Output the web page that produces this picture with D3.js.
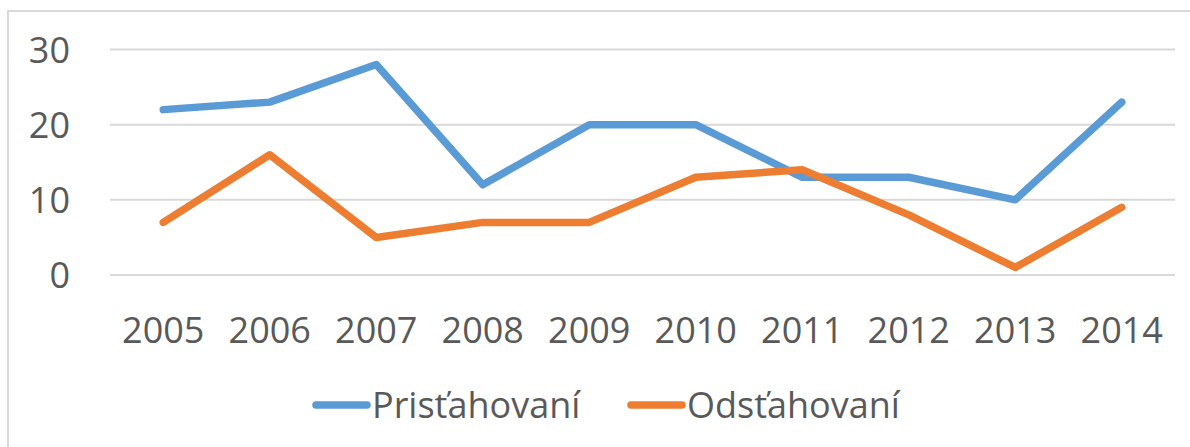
<!DOCTYPE html>
<html>
<head>
<meta charset="utf-8">
<script src="https://cdn.jsdelivr.net/npm/d3@7"></script>
<style>
  body { margin: 0; background: #fff; }
  text { font-family: "Open Sans", sans-serif; fill: #595959; }
</style>
</head>
<body>
<div id="chart"></div>
<script>
const years = ["2005", "2006", "2007", "2008", "2009", "2010", "2011", "2012", "2013", "2014"];
const pristahovani = [22, 23, 28, 12, 20, 20, 13, 13, 10, 23];
const odstahovani = [7, 16, 5, 7, 7, 13, 14, 8, 1, 9];
const yTicks = [0, 10, 20, 30];
const seriesNames = ["Prisťahovaní", "Odsťahovaní"];

const seriesColor = d3.scaleOrdinal()
    .domain(seriesNames)
    .range(["#5b9bd5", "#ed7d31"]);

const width = 1190, height = 447;
const plot = { left: 110, right: 1175, top: 49.5, bottom: 275 };

let svg = d3.select("#chart").append("svg")
    .attr("width", width)
    .attr("height", height);

// chart frame
svg.append("rect")
    .attr("x", 8).attr("y", 11)
    .attr("width", 1200).attr("height", 460)
    .attr("fill", "none")
    .attr("stroke", "#d9d9d9")
    .attr("stroke-width", 2);

let x = d3.scaleBand()
    .domain(years)
    .range([plot.left, plot.right]);

let y = d3.scaleLinear()
    .domain([0, 30])
    .range([plot.bottom, plot.top]);

// gridlines
svg.append("g")
    .selectAll("line")
    .data(yTicks)
    .join("line")
    .attr("x1", plot.left)
    .attr("x2", plot.right)
    .attr("y1", d => y(d))
    .attr("y2", d => y(d))
    .attr("stroke", "#d9d9d9")
    .attr("stroke-width", 2);

// y axis labels
let yAxis = svg.append("g")
    .attr("transform", "translate(70, 0)")
    .call(d3.axisLeft(y).tickValues(yTicks).tickSize(0).tickPadding(0));
yAxis.select(".domain").remove();
yAxis.selectAll("text")
    .attr("font-size", 36)
    .attr("font-family", null)
    .attr("fill", null)
    .attr("dy", "0.36em");

// x axis labels
let xAxis = svg.append("g")
    .attr("transform", "translate(0, 343)")
    .call(d3.axisBottom(x).tickSize(0).tickPadding(0));
xAxis.select(".domain").remove();
xAxis.selectAll("text")
    .attr("font-size", 36)
    .attr("font-family", null)
    .attr("fill", null)
    .attr("y", 0)
    .attr("dy", 0);

// lines
const series = [
    { name: seriesNames[0], values: pristahovani },
    { name: seriesNames[1], values: odstahovani }
];

let line = d3.line()
    .x((d, i) => x(years[i]) + x.bandwidth() / 2)
    .y(d => y(d));

svg.append("g")
    .selectAll("path")
    .data(series)
    .join("path")
    .attr("d", d => line(d.values))
    .attr("fill", "none")
    .attr("stroke", d => seriesColor(d.name))
    .attr("stroke-width", 7.5)
    .attr("stroke-linecap", "round")
    .attr("stroke-linejoin", "round");

// legend
const legendX = [313, 628];
let legend = svg.append("g")
    .selectAll("g")
    .data(series)
    .join("g")
    .attr("transform", (d, i) => `translate(${legendX[i]}, 405)`);

legend.append("line")
    .attr("x1", 3).attr("x2", 54)
    .attr("y1", 0).attr("y2", 0)
    .attr("stroke", d => seriesColor(d.name))
    .attr("stroke-width", 7.5)
    .attr("stroke-linecap", "round");

legend.append("text")
    .attr("x", 59)
    .attr("y", 13)
    .attr("font-size", 36)
    .text(d => d.name);
</script>
</body>
</html>
